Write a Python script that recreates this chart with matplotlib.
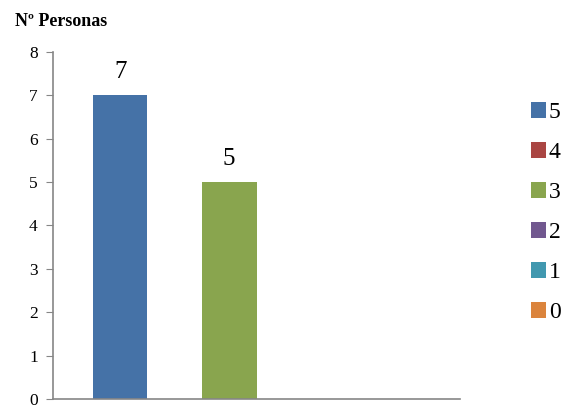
import numpy as np
import matplotlib
matplotlib.use("Agg")
import matplotlib.pyplot as plt
from matplotlib.patches import Patch

plt.rcParams['font.family'] = ['Liberation Serif', 'DejaVu Serif']

series = ['5', '4', '3', '2', '1', '0']
values = [7, 0, 5, 0, 0, 0]
colors = ['#4572A7', '#AA4643', '#89A54E', '#71588F', '#4198AF', '#DB843D']
yticks = [0, 1, 2, 3, 4, 5, 6, 7, 8]

fig = plt.figure(figsize=(5.67, 4.05), dpi=100)
ax = fig.add_axes([53/567, 1 - 399/405, (460 - 53)/567, (399 - 52)/405])

w = 0.134
for i, (s, v, c) in enumerate(zip(series, values, colors)):
    x = (i - 2.5) * w
    ax.bar(x, v, width=w, color=c, label=s)
    if v > 0:
        ax.text(x, v + 0.28, str(v), ha='center', va='bottom', fontsize=18)

ax.set_xlim(-0.5, 0.5)
ax.set_ylim(0, 8)
ax.set_yticks(yticks)
ax.set_yticklabels([str(t) for t in yticks], fontsize=12.5)
ax.set_xticks([])
for side in ['top', 'right']:
    ax.spines[side].set_visible(False)
for side in ['left', 'bottom']:
    ax.spines[side].set_color('#868686')
    ax.spines[side].set_linewidth(1.2)
ax.tick_params(axis='y', direction='out', length=5, color='#868686', pad=6)

fig.text(15/567, 1 - 22/405, 'Nº Personas', fontsize=13, fontweight='bold', va='center')

handles = [Patch(facecolor=c, label=s) for s, c in zip(series, colors)]
fig.legend(handles=handles, loc='upper left', bbox_to_anchor=(519/567, 1 - 90/405),
           frameon=False, fontsize=17, handlelength=0.65, handleheight=0.65,
           handletextpad=0.12, labelspacing=0.8, borderpad=0)

fig.savefig('out.png', dpi=100)
